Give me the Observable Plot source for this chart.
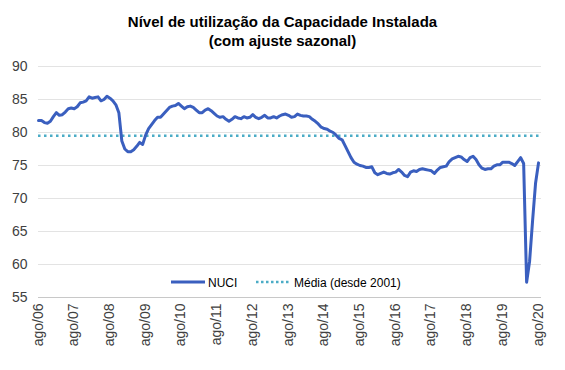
<!DOCTYPE html>
<html>
<head>
<meta charset="utf-8">
<script src="https://cdn.jsdelivr.net/npm/d3@7"></script>
<script src="https://cdn.jsdelivr.net/npm/@observablehq/plot@0.6"></script>
<style>
  body { margin: 0; background: #fff; font-family: "Liberation Sans", Arial, sans-serif; }
  #wrap { position: relative; width: 565px; height: 370px; overflow: hidden; }
  #title { position: absolute; top: 12px; left: 0; width: 565px; text-align: center; font-weight: bold; font-size: 15px; line-height: 19px; color: #000; }
  #chart { position: absolute; top: 55px; left: 0; }
  .leg { position: absolute; font-size: 12px; color: #000; line-height: 14px; white-space: nowrap; }
  .sw { position: absolute; }
</style>
</head>
<body>
<div id="wrap">
  <div id="title">Nível de utilização da Capacidade Instalada<br>(com ajuste sazonal)</div>
  <div id="chart"></div>
  <svg class="sw" style="left:170px;top:277px" width="36" height="10"><line x1="1" x2="35" y1="5" y2="5" stroke="#3a5fbf" stroke-width="3"/></svg>
  <div class="leg" style="left:208px;top:276px">NUCI</div>
  <svg class="sw" style="left:256px;top:277px" width="34" height="10"><line x1="0" x2="33" y1="5" y2="5" stroke="#4bacc6" stroke-width="2.5" stroke-dasharray="2.5,2.5"/></svg>
  <div class="leg" style="left:294px;top:276px">Média (desde 2001)</div>
</div>
<script>
const xLabels = ["ago/06","ago/07","ago/08","ago/09","ago/10","ago/11","ago/12","ago/13","ago/14","ago/15","ago/16","ago/17","ago/18","ago/19","ago/20"];
const yTicks = [55, 60, 65, 70, 75, 80, 85, 90];
const media = 79.5;
// NUCI monthly, Aug 2006 .. Aug 2020
const nuci = [
  81.8, 81.8, 81.5, 81.4, 81.7, 82.4, 83.0, 82.6, 82.7, 83.1, 83.6, 83.7,
  83.6, 83.9, 84.5, 84.6, 84.8, 85.4, 85.2, 85.3, 85.4, 84.8, 85.0, 85.5,
  85.2, 84.8, 84.2, 83.0, 78.7, 77.5, 77.1, 77.1, 77.4, 77.9, 78.5, 78.2,
  79.6, 80.6, 81.2, 81.8, 82.3, 82.3, 82.8, 83.3, 83.8, 84.0, 84.1, 84.4,
  84.0, 83.6, 83.9, 84.0, 83.8, 83.4, 83.0, 83.0, 83.4, 83.6, 83.3, 82.9,
  82.5, 82.3, 82.4, 82.0, 81.7, 82.0, 82.4, 82.2, 82.1, 82.4, 82.2, 82.3,
  82.7, 82.3, 82.1, 82.3, 82.6, 82.2, 82.2, 82.4, 82.2, 82.5, 82.7, 82.8,
  82.6, 82.3, 82.4, 82.8, 82.6, 82.5, 82.5, 82.4, 82.0, 81.7, 81.3, 80.8,
  80.6, 80.5, 80.2, 80.0, 79.6, 79.1, 78.9, 78.0, 77.1, 76.2, 75.5, 75.2,
  75.0, 74.9, 74.7, 74.7, 74.8, 73.9, 73.6, 73.8, 74.0, 73.8, 73.7, 73.9,
  74.0, 74.4, 74.0, 73.5, 73.3, 74.0, 74.2, 74.1, 74.4, 74.5, 74.4, 74.3,
  74.2, 73.8, 74.3, 74.7, 74.8, 74.9, 75.6, 76.0, 76.2, 76.4, 76.3, 75.9,
  75.6, 76.2, 76.4, 75.9, 75.1, 74.6, 74.4, 74.5, 74.5, 74.9, 75.1, 75.1,
  75.5, 75.5, 75.5, 75.3, 75.0, 75.6, 76.2, 75.3, 57.3, 60.5, 66.6, 72.3,
  75.4
];
const data = nuci.map((v, i) => ({i, v}));
const tickIdx = xLabels.map((_, k) => k * 12);

const chart = Plot.plot({
  width: 565,
  height: 315,
  marginLeft: 38,
  marginRight: 24,
  marginTop: 11,
  marginBottom: 73,
  style: {fontFamily: "'Liberation Sans', Arial, sans-serif", fontSize: "14px", color: "#404040", background: "transparent", overflow: "visible"},
  x: {type: "linear", domain: [0, 169], axis: null},
  y: {domain: [55, 90], ticks: yTicks, tickSize: 0, tickPadding: 11, label: null},
  marks: [
    Plot.ruleY(yTicks.slice(1), {stroke: "#e3e3e3", strokeWidth: 1}),
    Plot.ruleY([55], {stroke: "#c8c8c8", strokeWidth: 1}),
    Plot.ruleY([media], {stroke: "#4bacc6", strokeWidth: 2.5, strokeDasharray: "2.5,3.5"}),
    Plot.line(data, {x: "i", y: "v", stroke: "#3a5fbf", strokeWidth: 3, strokeLinejoin: "round", strokeLinecap: "round"}),
    Plot.text(tickIdx, {x: d => d, text: d => xLabels[d / 12], frameAnchor: "bottom", rotate: -90, textAnchor: "end", fill: "#404040", fontSize: 14, dx: 4, dy: 6})
  ]
});
document.getElementById("chart").appendChild(chart);
</script>
</body>
</html>
